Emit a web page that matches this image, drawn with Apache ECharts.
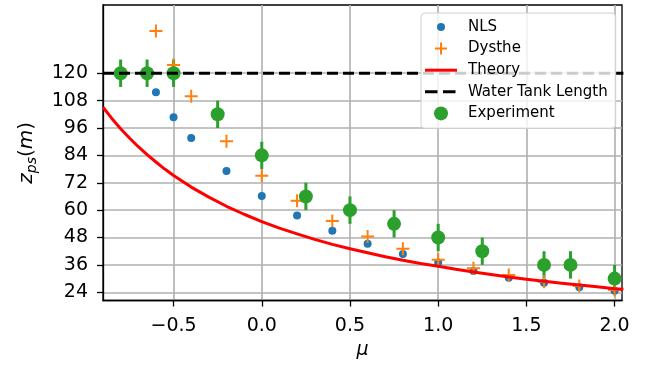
<!DOCTYPE html>
<html>
<head>
<meta charset="utf-8">
<script src="https://cdn.jsdelivr.net/npm/echarts@6/dist/echarts.min.js"></script>
<style>html,body{margin:0;padding:0;background:#fff}#c{width:655px;height:368px}</style>
</head>
<body>
<div id="c"></div>
<script>
// ---- data ----
const nlsMu = [-0.6, -0.5, -0.4, -0.2, 0.0, 0.2, 0.4, 0.6, 0.8, 1.0, 1.2, 1.4, 1.6, 1.8, 2.0];
const nlsZ  = [111.7, 100.7, 91.6, 77.1, 66.2, 57.7, 51.0, 45.3, 40.8, 37.1, 33.3, 30.4, 28.2, 26.2, 24.7];

const dystheMu = [-0.6, -0.5, -0.4, -0.2, 0.0, 0.2, 0.4, 0.6, 0.8, 1.0, 1.2, 1.4, 1.6, 1.8, 2.0];
const dystheZ  = [138.5, 123.6, 109.9, 90.2, 75.1, 64.1, 55.2, 48.5, 43.1, 38.3, 34.5, 31.6, 28.6, 26.7, 25.0];

const theoryMu = [-0.9, -0.85, -0.8, -0.75, -0.7, -0.65, -0.6, -0.55, -0.5, -0.4, -0.3, -0.2, -0.1, 0.0, 0.1, 0.2, 0.3, 0.4, 0.5, 0.6, 0.7, 0.8, 0.9, 1.0, 1.1, 1.2, 1.3, 1.4, 1.5, 1.6, 1.7, 1.8, 1.9, 2.0, 2.05];
const theoryZ  = [105.1, 100.2, 95.7, 91.6, 87.8, 84.3, 81.1, 78.0, 75.2, 70.1, 65.7, 61.7, 58.2, 55.0, 52.1, 49.6, 47.2, 45.0, 43.1, 41.3, 39.6, 38.0, 36.6, 35.4, 34.1, 32.9, 31.8, 30.7, 29.7, 28.8, 28.0, 27.2, 26.4, 25.6, 25.3];

const tankMu = [-0.9, 2.05];
const tankZ  = [120, 120];

const expMu  = [-0.8, -0.65, -0.5, -0.25, 0.0, 0.25, 0.5, 0.75, 1.0, 1.25, 1.6, 1.75, 2.0];
const expZ   = [120, 120, 120, 102, 84, 66, 60, 54, 48, 42, 36, 36, 30];
const expErr = [6, 6, 6, 6, 6, 6, 6, 6, 6, 6, 6, 6, 6];

const xTicks = [-0.5, 0.0, 0.5, 1.0, 1.5, 2.0];
const yTicks = [24, 36, 48, 60, 72, 84, 96, 108, 120];

// ---- chart ----
const pairs = (a, b) => a.map((v, i) => [v, b[i]]);
const FONT = 'DejaVu Sans';
const plusPath = 'path://M5.5,0H7.5V5.5H13V7.5H7.5V13H5.5V7.5H0V5.5H5.5Z';
const PAD = 'M0,0L0,0M32,16L32,16';

const chart = echarts.init(document.getElementById('c'), null, {renderer: 'canvas'});
chart.setOption({
  animation: false,
  backgroundColor: '#fff',
  grid: {left: 103, right: 33, top: 5, bottom: 67.5, show: true, borderColor: '#000', borderWidth: 1.3, backgroundColor: 'transparent'},
  xAxis: {
    type: 'value', min: -0.9, max: 2.042,
    name: 'μ', nameLocation: 'middle', nameGap: 39,
    nameTextStyle: {fontFamily: FONT, fontSize: 19, fontStyle: 'italic', color: '#000'},
    axisLine: {show: true, onZero: false, lineStyle: {color: '#000', width: 1.3}},
    axisTick: {show: true, customValues: xTicks, length: 6, lineStyle: {color: '#000', width: 1.3}},
    axisLabel: {customValues: xTicks, margin: 16, fontFamily: FONT, fontSize: 19, color: '#000',
      formatter: v => v.toFixed(1).replace('-', '\u2212')},
    splitLine: {show: true, lineStyle: {color: '#b0b0b0', width: 1.6}}
  },
  yAxis: {
    type: 'value', min: 20.4, max: 149.9,
    name: '{z|z}{s|ps}{p|(}{z|m}{p|)}', nameLocation: 'middle', nameGap: 64, nameRotate: 90,
    nameTextStyle: {fontFamily: FONT, color: '#000',
      rich: {
        z: {fontFamily: FONT, fontSize: 20, fontStyle: 'italic', color: '#000'},
        s: {fontFamily: FONT, fontSize: 14, fontStyle: 'italic', color: '#000', padding: [10, 0, 0, 0]},
        p: {fontFamily: FONT, fontSize: 20, color: '#000'}
      }},
    axisLine: {show: true, onZero: false, lineStyle: {color: '#000', width: 1.3}},
    axisTick: {show: true, customValues: yTicks, length: 6, lineStyle: {color: '#000', width: 1.3}},
    axisLabel: {customValues: yTicks, margin: 15, fontFamily: FONT, fontSize: 19, color: '#000'},
    splitLine: {show: true, lineStyle: {color: '#b0b0b0', width: 1.6}}
  },
  legend: {
    orient: 'vertical', left: 421, top: 13,
    padding: [6, 8, 7, 4],
    itemWidth: 32, itemHeight: 16, itemGap: 5.6,
    backgroundColor: 'rgba(255,255,255,0.8)', borderColor: '#d0d0d0', borderWidth: 1, borderRadius: 4,
    textStyle: {fontFamily: FONT, fontSize: 15, color: '#000', padding: [0, 0, 0, 6]},
    data: [
      {name: 'NLS', icon: 'path://' + PAD + 'M12,8a4,4 0 1,0 8,0a4,4 0 1,0 -8,0Z'},
      {name: 'Dysthe', icon: 'path://' + PAD + 'M15,2H17V7H22V9H17V14H15V9H10V7H15Z'},
      {name: 'Theory', icon: 'path://' + PAD + 'M0,6.5H32V9.5H0Z', itemStyle: {color: '#ff0000'}},
      {name: 'Water Tank Length', icon: 'path://' + PAD + 'M0,6.5H12.5V9.5H0Z M18,6.5H30.5V9.5H18Z', itemStyle: {color: '#000'}},
      {name: 'Experiment', icon: 'path://' + PAD + 'M9,8a7,7 0 1,0 14,0a7,7 0 1,0 -14,0Z'}
    ]
  },
  series: [
    {name: 'NLS', type: 'scatter', symbol: 'circle', symbolSize: 8,
      itemStyle: {color: '#1f77b4', opacity: 1}, data: pairs(nlsMu, nlsZ)},
    {name: 'Dysthe', type: 'scatter', symbol: plusPath, symbolSize: 13,
      itemStyle: {color: '#ff7f0e', opacity: 1}, data: pairs(dystheMu, dystheZ)},
    {name: 'Theory', type: 'line', symbol: 'none', showSymbol: false, smooth: false,
      lineStyle: {color: '#ff0000', width: 3, join: 'round'}, itemStyle: {color: '#ff0000'}, data: pairs(theoryMu, theoryZ)},
    {name: 'Water Tank Length', type: 'line', symbol: 'none', showSymbol: false,
      lineStyle: {color: '#000', width: 3, type: [11, 5]}, itemStyle: {color: '#000'}, data: pairs(tankMu, tankZ)},
    {name: 'ExpErr', type: 'custom',
      data: expMu.map((m, i) => [m, expZ[i] - expErr[i], expZ[i] + expErr[i]]),
      renderItem: (params, api) => {
        const p1 = api.coord([api.value(0), api.value(1)]);
        const p2 = api.coord([api.value(0), api.value(2)]);
        return {type: 'line', shape: {x1: p1[0], y1: p1[1], x2: p2[0], y2: p2[1]},
          style: {stroke: '#2ca02c', lineWidth: 3}};
      }},
    {name: 'Experiment', type: 'scatter', symbol: 'circle', symbolSize: 14,
      itemStyle: {color: '#2ca02c', opacity: 1}, data: pairs(expMu, expZ)}
  ]
});
</script>
</body>
</html>
